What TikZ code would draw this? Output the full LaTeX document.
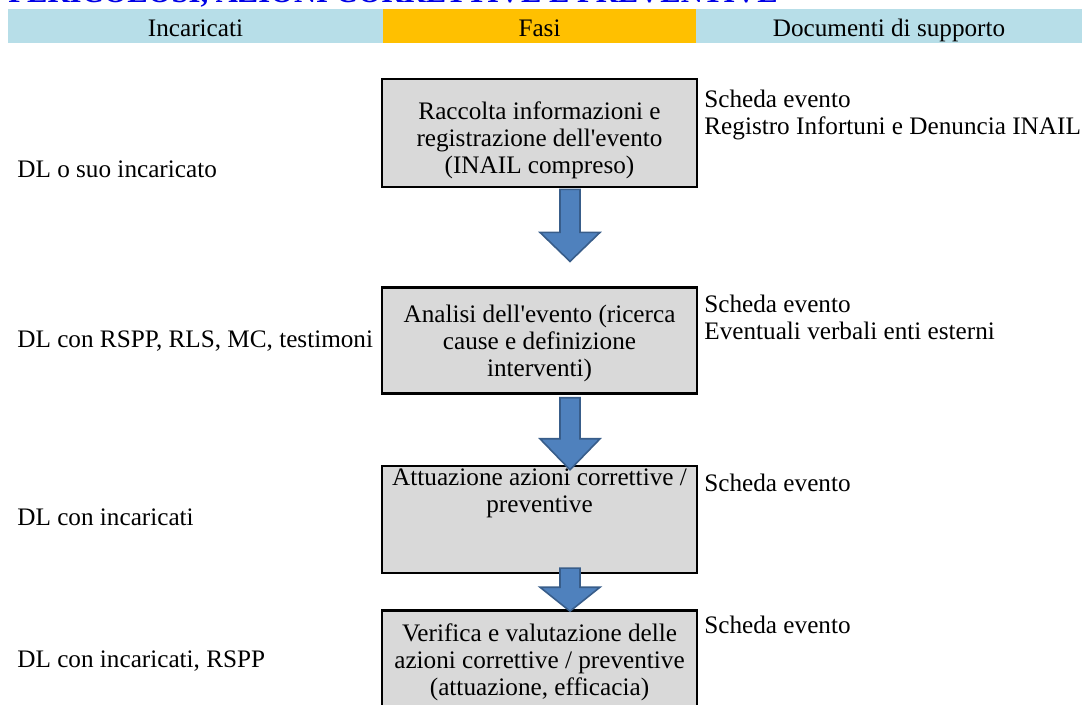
\documentclass[tikz,border=0pt]{standalone}
\usepackage{fontspec}
\setmainfont{Liberation Serif}
\usetikzlibrary{calc,positioning}

\definecolor{azzurro}{RGB}{183,222,232}
\definecolor{arancio}{RGB}{255,192,0}
\definecolor{grigio}{RGB}{217,217,217}
\definecolor{frecciablu}{RGB}{79,129,189}
\definecolor{bordoblu}{RGB}{56,93,138}
\definecolor{titoloblu}{RGB}{0,0,230}

% block arrow: #1 top of shaft, #2 tip, #3 head length (px)
\newcommand{\freccia}[3]{%
  \draw[freccia] ($#1+(-10,0)$) -- ($#1+(10,0)$) -- ($#2+(10,-#3)$) -- ($#2+(30,-#3)$)
    -- #2 -- ($#2+(-30,-#3)$) -- ($#2+(-10,-#3)$) -- cycle;}

\begin{document}
\begin{tikzpicture}[x=0.5pt,y=-0.5pt,
    every node/.style={font=\fontsize{12.6pt}{13.5pt}\selectfont},
    cella/.style={minimum height=17pt,text height=12pt,text depth=1pt,inner sep=0pt,outer sep=0pt,anchor=north west},
    fase/.style={draw=black,line width=1.2pt,fill=grigio,minimum width=157.5pt,inner sep=0pt},
    testo/.style={align=center,inner sep=0pt},
    voce/.style={anchor=base west,inner sep=0pt},
    freccia/.style={fill=frecciablu,draw=bordoblu,line width=0.8pt,line join=miter}]
    \useasboundingbox (0,0) rectangle (1082,705);
    \clip (0,0) rectangle (1082,705);

    % title (cut off at the top)
    \node[voce,text=titoloblu,font=\fontsize{15.3pt}{18pt}\selectfont\bfseries] (titolo) at (8,3)
      {PERICOLOSI, AZIONI CORRETTIVE E PREVENTIVE};

    % header
    \node[cella,fill=azzurro,minimum width=187.5pt] (incaricati) at (8,9) {Incaricati};
    \node[cella,fill=arancio,minimum width=156.5pt,right=0pt of incaricati] (fasi) {Fasi};
    \node[cella,fill=azzurro,minimum width=193pt,right=0pt of fasi] (documenti) {Documenti di supporto};

    % phases
    \node[fase,minimum height=54pt,below=17.5pt of fasi] (fase1) {};
    \node[fase,minimum height=53pt,below=49pt of fase1] (fase2) {};
    \node[fase,minimum height=53.5pt,below=35pt of fase2] (fase3) {};
    \node[fase,minimum height=54pt,below=17.5pt of fase3] (fase4) {};

    \node[testo] (t1) at ($(fase1.center)+(0,7)$)
      {Raccolta informazioni e\\registrazione dell\textquotesingle evento\\(INAIL compreso)};
    \node[testo] (t2) at ($(fase2.center)+(0,3)$)
      {Analisi dell\textquotesingle evento (ricerca\\cause e definizione\\interventi)};
    \node[testo] (t3) at ($(fase3.center)+(0,-26)$)
      {Attuazione azioni correttive /\\preventive};
    \node[testo] (t4) at ($(fase4.center)+(0,-2)$)
      {Verifica e valutazione delle\\azioni correttive / preventive\\(attuazione, efficacia)};

    % arrows
    \coordinate (a1) at ($(fase1.south)+(30.5,1)$);
    \coordinate (p1) at ($(fase2.north)+(30.5,-25)$);
    \coordinate (a2) at ($(fase2.south)+(30.5,3)$);
    \coordinate (p2) at ($(fase3.north)+(30.5,5)$);
    \coordinate (a3) at ($(fase3.south)+(30.5,-6)$);
    \coordinate (p3) at ($(fase4.north)+(30.5,2)$);
    \freccia{(a1)}{(p1)}{29}
    \freccia{(a2)}{(p2)}{31}
    \freccia{(a3)}{(p3)}{24}

    % who
    \node[voce] (chi1) at (17,178) {DL o suo incaricato};
    \node[voce] (chi2) at (17,348) {DL con RSPP, RLS, MC, testimoni};
    \node[voce] (chi3) at (17,525) {DL con incaricati};
    \node[voce] (chi4) at (17,667) {DL con incaricati, RSPP};

    % documents
    \node[voce] (doc1a) at (704,108) {Scheda evento};
    \node[voce] (doc1b) at (704,135) {Registro Infortuni e Denuncia INAIL};
    \node[voce] (doc2a) at (704,313) {Scheda evento};
    \node[voce] (doc2b) at (704,340) {Eventuali verbali enti esterni};
    \node[voce] (doc3) at (704,492) {Scheda evento};
    \node[voce] (doc4) at (704,633) {Scheda evento};
\end{tikzpicture}
\end{document}
